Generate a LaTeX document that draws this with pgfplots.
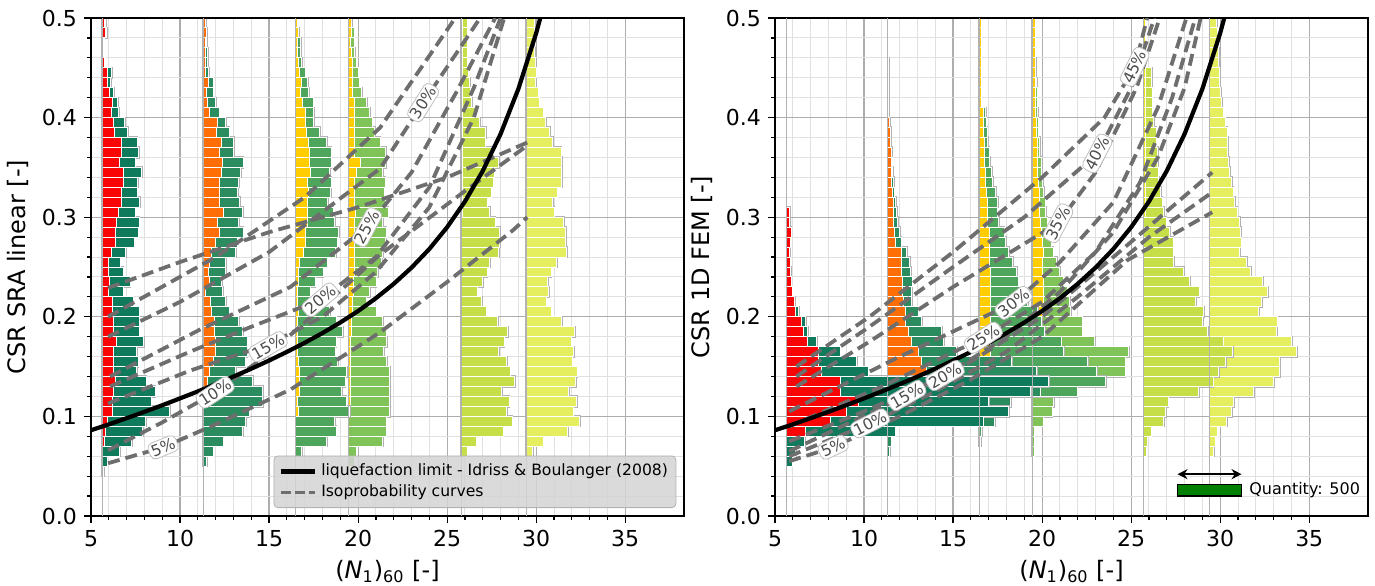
\documentclass[border=0pt]{standalone}
\usepackage{pgfplots}
\pgfplotsset{compat=1.18}
\usepackage{pgfplotstable}
\usepackage{fontspec}
\setmainfont{DejaVu Sans}
\usetikzlibrary{arrows.meta}

\definecolor{cRed}{RGB}{250,5,5}
\definecolor{cOra}{RGB}{255,110,5}
\definecolor{cGold}{RGB}{255,205,0}
\definecolor{cYel}{RGB}{240,228,20}
\definecolor{gA}{RGB}{16,122,92}
\definecolor{gB}{RGB}{42,140,95}
\definecolor{gC}{RGB}{78,166,92}
\definecolor{gD}{RGB}{128,195,88}
\definecolor{gE}{RGB}{198,222,72}
\definecolor{gF}{RGB}{228,238,95}
\definecolor{dashc}{RGB}{110,110,110}
\definecolor{qgreen}{RGB}{0,128,0}

% ---------------- left panel data: y  L  G (x units) -----------
\pgfplotstableread{
y L G
0.495 0.11 0.07
0.485 0.19 0.04
0.475 0.06 0.04
0.465 0.06 0.04
0.455 0.11 0.04
0.445 0.30 0.22
0.435 0.30 0.15
0.425 0.41 0.22
0.415 0.56 0.30
0.405 0.52 0.41
0.395 0.64 0.60
0.385 0.67 0.75
0.375 1.05 0.90
0.365 1.09 0.94
0.355 0.94 0.90
0.345 1.16 1.05
0.335 1.16 0.82
0.325 1.09 0.86
0.315 1.05 1.05
0.305 0.90 0.94
0.295 0.79 1.27
0.285 0.71 1.31
0.275 0.71 1.08
0.265 0.52 0.79
0.255 0.34 0.67
0.245 0.37 0.79
0.235 0.41 1.16
0.225 0.34 0.82
0.215 0.56 1.16
0.205 0.56 1.50
0.195 0.64 1.42
0.185 0.64 1.42
0.175 0.79 1.54
0.165 0.64 1.27
0.155 0.60 1.42
0.145 0.60 1.31
0.135 0.71 1.76
0.125 0.64 2.32
0.115 0.56 2.17
0.105 0.56 3.22
0.095 0.26 2.17
0.085 0.15 2.10
0.075 0.11 1.54
0.065 0.00 0.97
0.055 0.00 0.26
0.045 0.00 0.07
}\LHa
\pgfplotstableread{
y L G
0.495 0.15 0.00
0.485 0.19 0.00
0.475 0.15 0.04
0.465 0.15 0.11
0.455 0.15 0.11
0.445 0.15 0.15
0.435 0.30 0.26
0.425 0.19 0.37
0.415 0.26 0.45
0.405 0.37 0.52
0.395 0.79 0.49
0.385 0.75 0.71
0.375 1.05 0.67
0.365 0.94 0.79
0.355 1.09 1.16
0.345 1.01 1.09
0.335 0.94 1.05
0.325 0.90 1.05
0.315 0.90 1.16
0.305 1.16 1.05
0.295 0.79 1.20
0.285 0.90 1.35
0.275 0.67 1.24
0.265 0.45 1.39
0.255 0.34 0.94
0.245 0.30 0.97
0.235 0.34 0.71
0.225 0.15 0.94
0.215 0.41 0.86
0.205 0.45 1.01
0.195 0.64 1.35
0.185 0.64 1.57
0.175 0.67 1.80
0.165 0.71 1.76
0.155 0.60 1.76
0.145 0.37 1.46
0.135 0.26 2.51
0.125 0.11 3.22
0.115 0.04 3.30
0.105 0.00 2.58
0.095 0.00 2.40
0.085 0.00 2.21
0.075 0.00 1.12
0.065 0.00 0.56
0.055 0.00 0.19
}\LHb
\pgfplotstableread{
y L G
0.495 0.07 0.00
0.485 0.15 0.00
0.475 0.11 0.15
0.465 0.11 0.15
0.455 0.15 0.19
0.445 0.22 0.30
0.435 0.30 0.37
0.425 0.26 0.45
0.415 0.37 0.60
0.405 0.52 0.49
0.395 0.52 0.49
0.385 0.60 0.75
0.375 0.71 1.01
0.365 0.79 1.20
0.355 0.79 1.20
0.345 0.82 1.09
0.335 0.64 1.35
0.325 0.71 1.24
0.315 0.64 1.16
0.305 0.64 1.46
0.295 0.64 1.54
0.285 0.56 1.84
0.275 0.56 1.76
0.265 0.41 1.84
0.255 0.22 1.54
0.245 0.15 1.39
0.235 0.15 0.94
0.225 0.11 0.71
0.215 0.11 1.24
0.205 0.15 1.76
0.195 0.11 2.17
0.185 0.11 2.51
0.175 0.11 2.17
0.165 0.11 2.10
0.155 0.15 2.21
0.145 0.19 2.66
0.135 0.19 2.58
0.125 0.19 2.40
0.115 0.11 2.73
0.105 0.15 2.88
0.095 0.00 2.17
0.085 0.00 2.28
0.075 0.00 1.72
0.065 0.00 0.34
}\LHc
\pgfplotstableread{
y L G
0.495 0.15 0.00
0.485 0.15 0.15
0.475 0.11 0.19
0.465 0.15 0.19
0.455 0.19 0.22
0.445 0.22 0.30
0.435 0.22 0.37
0.425 0.19 0.52
0.415 0.34 0.67
0.405 0.34 0.82
0.395 0.34 0.97
0.385 0.34 1.12
0.375 0.30 1.46
0.365 0.34 1.72
0.355 0.64 1.42
0.345 0.41 1.50
0.335 0.34 1.69
0.325 0.34 1.65
0.315 0.34 1.69
0.305 0.37 1.84
0.295 0.34 1.57
0.285 0.34 1.76
0.275 0.34 1.72
0.265 0.34 1.57
0.255 0.34 1.50
0.245 0.30 1.31
0.235 0.26 1.27
0.225 0.26 0.90
0.215 0.22 0.75
0.205 0.19 1.35
0.195 0.15 1.76
0.185 0.15 1.95
0.175 0.11 2.02
0.165 0.11 1.84
0.155 0.11 2.02
0.145 0.11 2.17
0.135 0.11 2.17
0.125 0.11 2.17
0.115 0.07 2.21
0.105 0.00 2.28
0.095 0.00 2.10
0.085 0.00 2.10
0.075 0.00 1.91
0.065 0.00 0.41
0.055 0.00 0.30
}\LHd
\pgfplotstableread{
y L G
0.495 0.10 0.24
0.485 0.10 0.24
0.475 0.10 0.24
0.465 0.10 0.24
0.455 0.10 0.24
0.445 0.10 0.31
0.435 0.10 0.39
0.425 0.10 0.42
0.415 0.10 0.50
0.405 0.10 0.76
0.395 0.10 0.95
0.385 0.10 1.29
0.375 0.10 1.25
0.365 0.10 1.70
0.355 0.10 2.00
0.345 0.10 1.77
0.335 0.10 1.70
0.325 0.10 1.59
0.315 0.10 1.36
0.305 0.10 1.51
0.295 0.00 1.91
0.285 0.00 2.17
0.275 0.00 2.17
0.265 0.00 2.13
0.255 0.00 1.61
0.245 0.00 1.46
0.235 0.00 1.20
0.225 0.00 0.90
0.215 0.00 1.16
0.205 0.00 1.42
0.195 0.00 2.06
0.185 0.00 2.62
0.175 0.00 2.43
0.165 0.00 2.10
0.155 0.00 2.55
0.145 0.00 2.77
0.135 0.00 3.00
0.125 0.00 2.28
0.115 0.00 2.70
0.105 0.00 2.58
0.095 0.00 2.88
0.085 0.00 2.36
0.075 0.00 0.86
0.065 0.00 0.34
}\LHe
\pgfplotstableread{
y L G
0.495 0.00 0.45
0.485 0.00 0.45
0.475 0.00 0.41
0.465 0.00 0.45
0.455 0.00 0.49
0.445 0.00 0.56
0.435 0.00 0.52
0.425 0.00 0.67
0.415 0.00 0.71
0.405 0.00 0.94
0.395 0.00 1.09
0.385 0.00 1.31
0.375 0.00 1.46
0.365 0.00 1.95
0.355 0.00 1.99
0.345 0.00 1.99
0.335 0.00 1.99
0.325 0.00 1.72
0.315 0.00 1.46
0.305 0.00 1.57
0.295 0.00 2.10
0.285 0.00 2.21
0.275 0.00 2.21
0.265 0.00 2.25
0.255 0.00 1.69
0.245 0.00 1.39
0.235 0.00 1.20
0.225 0.00 1.24
0.215 0.00 1.12
0.205 0.00 1.39
0.195 0.00 1.99
0.185 0.00 2.70
0.175 0.00 2.51
0.165 0.00 2.66
0.155 0.00 2.58
0.145 0.00 2.85
0.135 0.00 2.77
0.125 0.00 2.36
0.115 0.00 2.81
0.105 0.00 2.62
0.095 0.00 3.00
0.085 0.00 2.32
0.075 0.00 0.94
0.065 0.00 0.37
}\LHf

% ---------------- right panel data -----------
\pgfplotstableread{
y L G
0.305 0.15 0.00
0.295 0.15 0.00
0.285 0.26 0.00
0.275 0.19 0.00
0.265 0.15 0.00
0.255 0.19 0.00
0.245 0.22 0.00
0.235 0.26 0.00
0.225 0.30 0.00
0.215 0.43 0.00
0.205 0.47 0.20
0.195 0.84 0.22
0.185 0.94 0.24
0.175 1.16 0.53
0.165 1.78 1.22
0.155 1.78 2.15
0.145 1.97 2.60
0.135 3.00 11.70
0.125 3.00 10.70
0.115 4.03 7.30
0.105 3.37 9.10
0.095 2.43 8.60
0.085 1.03 5.06
0.075 0.00 1.00
0.065 0.00 0.50
0.055 0.00 0.30
}\RHa
\pgfplotstableread{
y L G
0.455 0.05 0.00
0.445 0.05 0.00
0.435 0.05 0.00
0.425 0.05 0.00
0.415 0.05 0.00
0.405 0.07 0.00
0.395 0.11 0.00
0.385 0.15 0.00
0.375 0.15 0.02
0.365 0.19 0.04
0.355 0.19 0.07
0.345 0.22 0.07
0.335 0.22 0.11
0.325 0.26 0.11
0.315 0.30 0.15
0.305 0.30 0.19
0.295 0.34 0.22
0.285 0.37 0.30
0.275 0.45 0.30
0.265 0.75 0.30
0.255 0.79 0.45
0.245 0.79 0.49
0.235 0.82 0.55
0.225 0.85 0.50
0.215 0.88 0.45
0.205 0.97 0.75
0.195 0.97 0.94
0.185 1.16 1.87
0.175 1.35 1.78
0.165 1.72 2.15
0.155 1.91 5.06
0.145 2.19 6.18
0.135 2.00 6.00
0.125 1.50 7.06
0.115 0.50 6.40
0.105 0.20 5.00
0.095 0.00 6.00
0.085 0.00 0.40
0.075 0.00 0.20
0.065 0.00 0.10
}\RHb
\pgfplotstableread{
y L G
0.495 0.11 0.00
0.485 0.11 0.00
0.475 0.11 0.00
0.465 0.11 0.00
0.455 0.11 0.00
0.445 0.11 0.00
0.435 0.11 0.00
0.425 0.11 0.00
0.415 0.11 0.00
0.405 0.22 0.15
0.395 0.26 0.15
0.385 0.26 0.19
0.375 0.30 0.19
0.365 0.30 0.26
0.355 0.30 0.30
0.345 0.37 0.34
0.335 0.37 0.41
0.325 0.41 0.52
0.315 0.49 0.56
0.305 0.49 0.52
0.295 0.49 0.60
0.285 0.56 0.86
0.275 0.56 0.94
0.265 0.56 1.10
0.255 0.60 1.30
0.245 0.66 1.44
0.235 0.66 1.54
0.225 0.66 1.74
0.215 0.66 2.07
0.205 0.66 2.64
0.195 0.66 2.84
0.185 0.66 3.04
0.175 0.66 3.94
0.165 0.66 4.08
0.155 0.50 5.60
0.145 0.30 6.30
0.135 0.20 6.90
0.125 0.10 5.40
0.115 0.00 1.50
0.105 0.00 1.00
0.095 0.00 0.90
0.085 0.00 0.15
0.075 0.00 0.10
}\RHc
\pgfplotstableread{
y L G
0.495 0.15 0.00
0.485 0.15 0.00
0.475 0.15 0.00
0.465 0.15 0.00
0.455 0.15 0.04
0.445 0.15 0.04
0.435 0.15 0.07
0.425 0.19 0.07
0.415 0.19 0.07
0.405 0.19 0.11
0.395 0.22 0.11
0.385 0.22 0.11
0.375 0.26 0.15
0.365 0.26 0.15
0.355 0.30 0.19
0.345 0.30 0.22
0.335 0.34 0.22
0.325 0.37 0.26
0.315 0.41 0.30
0.305 0.41 0.34
0.295 0.45 0.37
0.285 0.52 0.41
0.275 0.56 0.49
0.265 0.60 0.56
0.255 0.56 0.79
0.245 0.56 0.97
0.235 0.60 1.12
0.225 0.60 1.35
0.215 0.60 1.50
0.205 0.56 1.60
0.195 0.45 2.35
0.185 0.30 2.50
0.175 0.20 3.30
0.165 0.10 5.30
0.155 0.05 5.15
0.145 0.00 5.20
0.135 0.00 4.00
0.125 0.00 2.00
0.115 0.00 1.20
0.105 0.00 1.10
0.095 0.00 0.60
0.085 0.00 0.10
0.075 0.00 0.10
0.065 0.00 0.10
}\RHd
\pgfplotstableread{
y L G
0.495 0.10 0.05
0.485 0.10 0.05
0.475 0.10 0.05
0.465 0.10 0.05
0.455 0.10 0.05
0.445 0.10 0.35
0.435 0.10 0.35
0.425 0.10 0.37
0.415 0.10 0.37
0.405 0.10 0.39
0.395 0.10 0.46
0.385 0.10 0.61
0.375 0.10 0.61
0.365 0.10 0.69
0.355 0.10 0.69
0.345 0.10 0.72
0.335 0.10 0.76
0.325 0.10 0.87
0.315 0.10 0.95
0.305 0.10 1.02
0.295 0.00 1.27
0.285 0.00 1.46
0.275 0.00 1.65
0.265 0.00 1.65
0.255 0.00 1.69
0.245 0.00 2.25
0.235 0.00 2.58
0.225 0.00 3.11
0.215 0.00 2.92
0.205 0.00 3.37
0.195 0.00 3.33
0.185 0.00 3.60
0.175 0.00 4.46
0.165 0.00 5.00
0.155 0.00 4.60
0.145 0.00 4.20
0.135 0.00 3.90
0.125 0.00 3.10
0.115 0.00 1.37
0.105 0.00 1.24
0.095 0.00 1.12
0.085 0.00 0.43
0.075 0.00 0.19
0.065 0.00 0.15
}\RHe
\pgfplotstableread{
y L G
0.495 0.00 0.37
0.485 0.00 0.41
0.475 0.00 0.41
0.465 0.00 0.49
0.455 0.00 0.49
0.445 0.00 0.56
0.435 0.00 0.56
0.425 0.00 0.60
0.415 0.00 0.67
0.405 0.00 0.75
0.395 0.00 0.86
0.385 0.00 0.97
0.375 0.00 1.01
0.365 0.00 1.01
0.355 0.00 1.05
0.345 0.00 1.12
0.335 0.00 1.24
0.325 0.00 1.31
0.315 0.00 1.39
0.305 0.00 1.54
0.295 0.00 1.69
0.285 0.00 1.72
0.275 0.00 1.76
0.265 0.00 1.69
0.255 0.00 2.06
0.245 0.00 2.28
0.235 0.00 2.96
0.225 0.00 3.25
0.215 0.00 2.90
0.205 0.00 2.73
0.195 0.00 3.78
0.185 0.00 3.75
0.175 0.00 4.60
0.165 0.00 4.87
0.155 0.00 3.93
0.145 0.00 3.93
0.135 0.00 3.60
0.125 0.00 2.47
0.115 0.00 1.35
0.105 0.00 1.24
0.095 0.00 0.94
0.085 0.00 0.41
0.075 0.00 0.30
0.065 0.00 0.22
}\RHf

\pgfplotsset{
  basegeom/.style={scale only axis, width=296.5pt, height=249pt,
    xmin=5, xmax=38.3, ymin=0, ymax=0.5, anchor=origin},
  framest/.style={basegeom,
    xtick={5,10,...,35}, ytick={0,0.1,...,0.5},
    minor x tick num=4, minor y tick num=4,
    grid=both,
    major grid style={color=black!32, line width=0.6pt},
    minor grid style={color=black!12, line width=0.5pt},
    tick align=outside, major tick length=3.5pt, minor tick length=2pt,
    tick style={black, line width=0.6pt},
    xtick pos=bottom, ytick pos=left,
    yticklabel style={/pgf/number format/.cd, fixed, fixed zerofill, precision=1},
    /pgf/number format/assume math mode=true,
    tick label style={font=\fontsize{11}{13}\selectfont},
    label style={font=\fontsize{12}{14}\selectfont},
    axis line style={black, line width=0.8pt},
  },
  histst/.style={basegeom, hide axis, xbar stacked, bar width=0.01,
    every axis plot/.append style={draw=white, line width=0.5pt}},
  topst/.style={basegeom, xtick=\empty, ytick=\empty,
    axis line style={black, line width=0.8pt}},
  dcurve/.style={dashc, line width=1.9pt, dash pattern=on 6pt off 3pt, forget plot},
  lim/.style={black, line width=2.1pt, forget plot},
}
\tikzset{clab/.style={fill=white, draw=black!25, rounded corners=2.5pt, inner sep=1.2pt,
    text=black!70, font=\fontsize{7.8}{8.5}\selectfont}}

\newcommand{\histax}[5]{%
\begin{axis}[histst, at={(#1,0)}]
\addplot[draw=none, fill=none] table[x expr=#2, y=y]{#3};
\addplot[fill=none, draw=black!30, line width=1.1pt] table[x expr=\thisrow{L}+\thisrow{G}, y=y]{#3};
\end{axis}
\begin{axis}[histst, at={(#1,0)}]
\addplot[draw=none, fill=none] table[x expr=#2, y=y]{#3};
\addplot[fill=#4] table[x=L, y=y]{#3};
\addplot[fill=#5] table[x=G, y=y]{#3};
\end{axis}}

\begin{document}
\begin{tikzpicture}
\useasboundingbox (-45.5pt,-34.5pt) rectangle (642pt,258pt);

% ======================= LEFT PANEL =======================
\begin{axis}[framest, at={(0,0)},
  xlabel={(\textit{N}\textsubscript{1})\textsubscript{60} [-]},
  ylabel={CSR SRA linear [-]}]
\end{axis}
\histax{0pt}{29.45}{\LHf}{cYel}{gF}
\histax{0pt}{25.78}{\LHe}{cYel}{gE}
\histax{0pt}{19.48}{\LHd}{cGold}{gD}
\histax{0pt}{16.50}{\LHc}{cGold}{gC}
\histax{0pt}{11.30}{\LHb}{cOra}{gB}
\histax{0pt}{5.64}{\LHa}{cRed}{gA}
\begin{axis}[topst, at={(0,0)},
  legend style={at={(0.987,0.016)}, anchor=south east, fill=black!17, fill opacity=0.85,
    text opacity=1, draw=black!30, rounded corners=2pt,
    font=\fontsize{7.8}{9.5}\selectfont, row sep=-1pt, inner sep=2pt},
  legend cell align=left]
\addlegendimage{black, line width=2.6pt}
\addlegendentry{liquefaction limit - Idriss \& Boulanger (2008)}
\addlegendimage{dashc, line width=1.5pt, dash pattern=on 5pt off 2pt}
\addlegendentry{Isoprobability curves}
\foreach \xx in {5.64,11.30,16.50,19.48,25.78,29.45}{
  \edef\tmp{\noexpand\addplot[black!30, line width=0.5pt, forget plot] coordinates {(\xx,0) (\xx,0.5)};}\tmp}
\addplot[dcurve] coordinates {(5.96,0.053)(9.05,0.069)(12,0.092)(16.2,0.127)(21.2,0.184)(25,0.235)(28.7,0.287)(29.5,0.300)};
\addplot[dcurve] coordinates {(5.96,0.066)(9,0.094)(11.97,0.124)(15,0.163)(18,0.21)(21.2,0.262)(25.9,0.325)(29.5,0.372)};
\addplot[dcurve] coordinates {(5.96,0.113)(10.56,0.146)(14.94,0.172)(18,0.2)(21,0.245)(24,0.31)(26.5,0.4)(28.2,0.5)};
\addplot[dcurve] coordinates {(6.07,0.13)(10.56,0.165)(14,0.19)(17.87,0.217)(21,0.26)(24,0.33)(26.5,0.43)(28.0,0.5)};
\addplot[dcurve] coordinates {(6.07,0.14)(11.1,0.187)(16.2,0.23)(20.5,0.29)(23,0.345)(25.5,0.425)(27.7,0.5)};
\addplot[dcurve] coordinates {(5.96,0.18)(10,0.215)(15,0.265)(21.24,0.349)(23.65,0.415)(26.85,0.5)};
\addplot[dcurve] coordinates {(5.96,0.229)(10,0.255)(15,0.285)(20,0.31)(25,0.34)(29.5,0.375)};
\addplot[dcurve] coordinates {(5.96,0.2)(12,0.26)(17,0.32)(21.24,0.39)(25.45,0.5)};
\addplot[lim] coordinates {(5,0.0861)(6,0.0920)(7,0.0982)(8,0.1046)(9,0.1112)(10,0.1181)(11,0.1251)(12,0.1324)(13,0.1400)(14,0.1479)(15,0.1561)(16,0.1648)(17,0.1739)(18,0.1837)(19,0.1943)(20,0.2058)(21,0.2187)(22,0.2331)(23,0.2494)(24,0.2681)(25,0.2900)(26,0.3158)(27,0.3465)(28,0.3836)(29,0.4289)(30,0.4849)(30.5,0.518)};
\node[clab, rotate=22] at (axis cs:9.05,0.069) {5\%};
\node[clab, rotate=33] at (axis cs:11.97,0.124) {10\%};
\node[clab, rotate=30] at (axis cs:14.94,0.170) {15\%};
\node[clab, rotate=40] at (axis cs:17.87,0.217) {20\%};
\node[clab, rotate=62] at (axis cs:20.5,0.29) {25\%};
\node[clab, rotate=58] at (axis cs:23.65,0.415) {30\%};
\end{axis}

% ======================= RIGHT PANEL =======================
\begin{axis}[framest, at={(342pt,0)},
  xlabel={(\textit{N}\textsubscript{1})\textsubscript{60} [-]},
  ylabel={CSR 1D FEM [-]}]
\end{axis}
\histax{342pt}{29.42}{\RHf}{cYel}{gF}
\histax{342pt}{25.70}{\RHe}{cYel}{gE}
\histax{342pt}{19.46}{\RHd}{cGold}{gD}
\histax{342pt}{16.46}{\RHc}{cGold}{gC}
\histax{342pt}{11.33}{\RHb}{cOra}{gB}
\histax{342pt}{5.66}{\RHa}{cRed}{gA}
\begin{axis}[topst, at={(342pt,0)}]
\foreach \xx in {5.66,11.33,16.46,19.46,25.70,29.42}{
  \edef\tmp{\noexpand\addplot[black!30, line width=0.5pt, forget plot] coordinates {(\xx,0) (\xx,0.5)};}\tmp}
\addplot[dcurve] coordinates {(5.8,0.055)(8.26,0.069)(12,0.1)(16,0.137)(20,0.18)(24.8,0.257)(29.55,0.305)};
\addplot[dcurve] coordinates {(5.8,0.06)(10.34,0.093)(14,0.125)(18,0.165)(22,0.22)(26,0.28)(29.55,0.325)};
\addplot[dcurve] coordinates {(5.8,0.065)(12.4,0.121)(16,0.155)(20,0.2)(24,0.26)(29.55,0.345)};
\addplot[dcurve] coordinates {(5.8,0.075)(10,0.105)(14.55,0.141)(18,0.18)(21,0.225)(24,0.285)(26.5,0.36)(28,0.43)(28.9,0.5)};
\addplot[dcurve] coordinates {(5.8,0.09)(11,0.13)(16.7,0.179)(20,0.215)(23,0.265)(25.5,0.335)(27.3,0.42)(28.6,0.5)};
\addplot[dcurve] coordinates {(5.8,0.105)(12,0.16)(18.4,0.214)(21,0.255)(24,0.315)(26.5,0.41)(28.1,0.5)};
\addplot[dcurve] coordinates {(6.2,0.13)(10.3,0.175)(15,0.23)(20.9,0.294)(23,0.345)(25.3,0.43)(26.6,0.5)};
\addplot[dcurve] coordinates {(6.2,0.14)(10.3,0.19)(15,0.25)(19,0.3)(23.1,0.364)(25,0.43)(26.3,0.5)};
\addplot[dcurve] coordinates {(6.2,0.15)(10.3,0.2)(15,0.265)(20,0.34)(23.5,0.4)(25.2,0.451)(25.9,0.5)};
\addplot[lim] coordinates {(5,0.0861)(6,0.0920)(7,0.0982)(8,0.1046)(9,0.1112)(10,0.1181)(11,0.1251)(12,0.1324)(13,0.1400)(14,0.1479)(15,0.1561)(16,0.1648)(17,0.1739)(18,0.1837)(19,0.1943)(20,0.2058)(21,0.2187)(22,0.2331)(23,0.2494)(24,0.2681)(25,0.2900)(26,0.3158)(27,0.3465)(28,0.3836)(29,0.4289)(30,0.4849)(30.5,0.518)};
\node[clab, rotate=25] at (axis cs:8.26,0.069) {5\%};
\node[clab, rotate=27] at (axis cs:10.34,0.093) {10\%};
\node[clab, rotate=30] at (axis cs:12.4,0.121) {15\%};
\node[clab, rotate=30] at (axis cs:14.55,0.141) {20\%};
\node[clab, rotate=33] at (axis cs:16.7,0.179) {25\%};
\node[clab, rotate=38] at (axis cs:18.4,0.214) {30\%};
\node[clab, rotate=62] at (axis cs:20.9,0.294) {35\%};
\node[clab, rotate=62] at (axis cs:23.1,0.364) {40\%};
\node[clab, rotate=64] at (axis cs:25.2,0.451) {45\%};
\draw[{Stealth[length=5pt,width=5pt]}-{Stealth[length=5pt,width=5pt]}, line width=1.2pt] (axis cs:27.6,0.042) -- (axis cs:31.2,0.042);
\draw[fill=qgreen, draw=black, line width=0.6pt] (axis cs:27.6,0.020) rectangle (axis cs:31.2,0.032);
\node[anchor=west, font=\fontsize{8}{9}\selectfont, inner sep=1pt] at (axis cs:31.5,0.026) {Quantity: 500};
\end{axis}
\end{tikzpicture}
\end{document}
